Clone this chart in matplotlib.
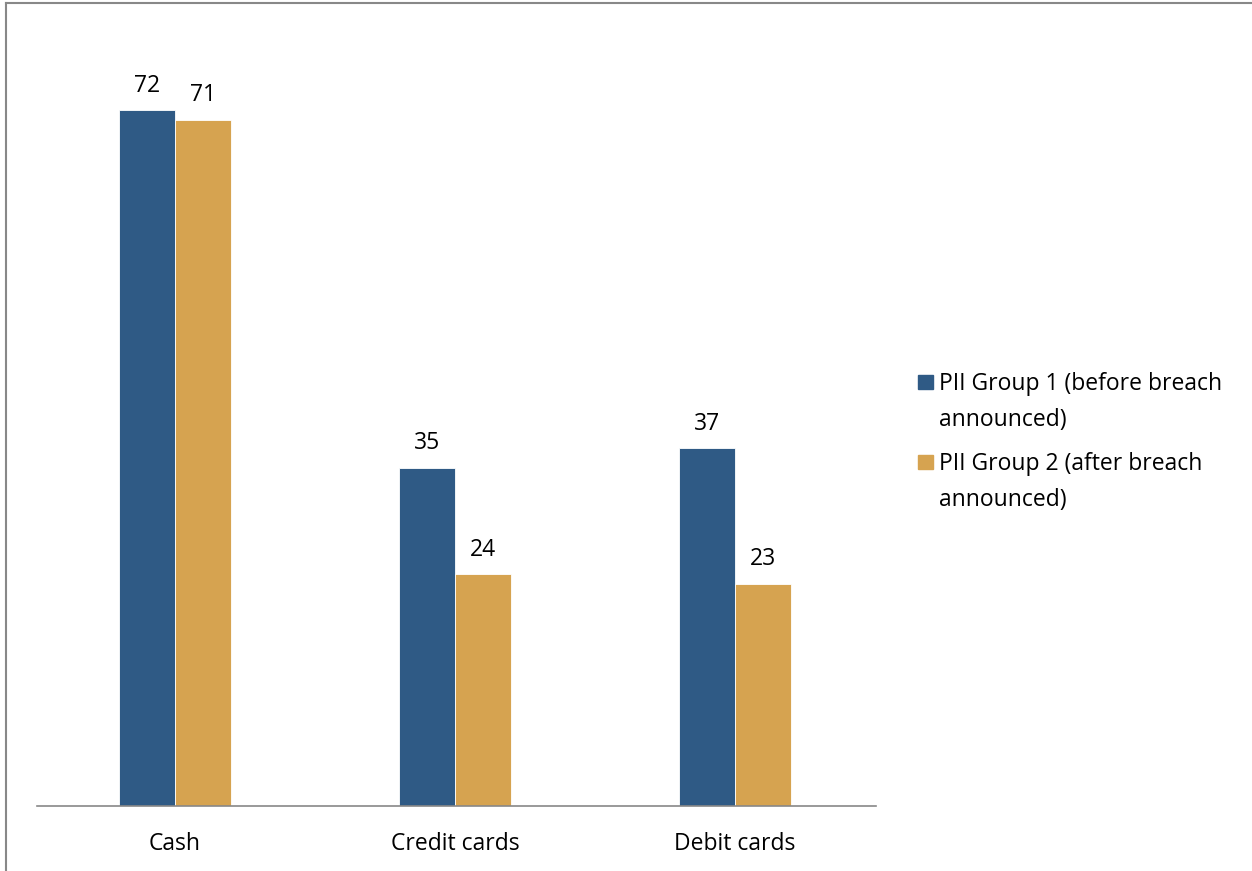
import numpy as np
import matplotlib.pyplot as plt
from matplotlib.patches import Rectangle
from matplotlib.lines import Line2D

# ===============================
# Data
# ===============================
categories = ["Cash", "Credit cards", "Debit cards"]
group1_values = [72, 35, 37]
group2_values = [71, 24, 23]
series_labels = ["PII Group 1 (before breach\nannounced)",
                 "PII Group 2 (after breach\nannounced)"]

BLUE = "#2F5A85"
GOLD = "#D6A350"
FONT = "Open Sans"
FS = 16.5

plt.rcParams['font.family'] = [FONT, 'DejaVu Sans']

W, H = 1252, 871
fig = plt.figure(figsize=(W / 100, H / 100), dpi=100)
ax = fig.add_axes([37 / W, 1 - 806 / H, (876 - 37) / W, (806 - 33) / H])

x = np.arange(len(categories))
bw = 0.2
bars1 = ax.bar(x - bw / 2, group1_values, bw, color=BLUE, edgecolor="white", linewidth=0.6)
bars2 = ax.bar(x + bw / 2, group2_values, bw, color=GOLD, edgecolor="white", linewidth=0.6)

for bars, vals in [(bars1, group1_values), (bars2, group2_values)]:
    for b, v in zip(bars, vals):
        ax.annotate(str(v), (b.get_x() + b.get_width() / 2, b.get_height()),
                    xytext=(0, 9), textcoords="offset points",
                    ha="center", va="bottom", fontsize=FS)

ax.set_xlim(-0.493, 2.504)
ax.set_ylim(0, 80)
ax.set_xticks(x)
ax.set_xticklabels(categories, fontsize=FS)
ax.tick_params(axis="x", length=0, pad=19)
ax.set_yticks([])
for side in ["top", "right", "left"]:
    ax.spines[side].set_visible(False)
ax.spines["bottom"].set_color("#888888")
ax.spines["bottom"].set_linewidth(1.2)

# legend drawn by hand so the swatch sits on the first line
for i, (lab, col) in enumerate(zip(series_labels, [BLUE, GOLD])):
    ytop = 375 + i * 80
    fig.patches.append(Rectangle((918 / W, 1 - (ytop + 14) / H), 15 / W, 14 / H,
                                 transform=fig.transFigure, color=col))
    fig.text(939 / W, 1 - (ytop - 3) / H, lab, ha="left", va="top",
             fontsize=FS, linespacing=1.64)

# outer frame (left and top edges visible)
fig.add_artist(Line2D([6 / W, 6 / W], [0, 1 - 3 / H], transform=fig.transFigure,
                      color="#888888", linewidth=1.5))
fig.add_artist(Line2D([6 / W, 1], [1 - 3 / H, 1 - 3 / H], transform=fig.transFigure,
                      color="#888888", linewidth=1.5))

fig.savefig("out.png", dpi=100)
